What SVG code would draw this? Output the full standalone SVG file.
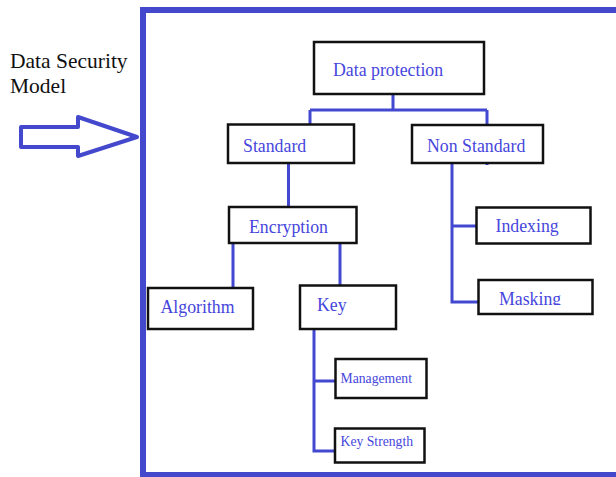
<svg xmlns="http://www.w3.org/2000/svg" width="616" height="477" viewBox="0 0 616 477" font-family="Liberation Serif">
  <style>
    .box { fill: #ffffff; stroke: #111111; stroke-width: 2.5; }
    .lbl { font-size: 17.8px; fill: #4646dc; }
    .sm { font-size: 13.7px; }
    .wire { fill: none; stroke: #4249d0; stroke-width: 3; }
    .title { font-size: 21.5px; fill: #111111; }
  </style>
  <defs>
    <clipPath id="maskingClip">
      <rect x="478" y="280" width="115" height="25"/>
    </clipPath>
  </defs>

  <rect width="616" height="477" fill="#ffffff"/>

  <!-- outer frame -->
  <rect x="143" y="10" width="500" height="465" fill="none" stroke="#4448cc" stroke-width="6"/>

  <!-- caption and pointer arrow -->
  <g id="caption">
    <text class="title" x="10" y="68" font-family="Liberation Serif">Data Security</text>
    <text class="title" x="10" y="93" font-family="Liberation Serif">Model</text>
  </g>
  <g id="pointer">
    <polygon points="21,127 78,127 78,117 137,137 78,156 78,147 21,147" fill="#ffffff" stroke="#4448cc" stroke-width="4" stroke-linejoin="round"/>
  </g>

  <!-- connectors -->
  <g id="connectors">
    <path class="wire" d="M393,94 V110 M310,110 H487 M310,110 V125 M487,110 V165"/>
    <path class="wire" d="M288.5,163 V207"/>
    <path class="wire" d="M233,243 V288 M340,243 V286"/>
    <path class="wire" d="M314,329 V451 H336 M314,381 H336"/>
    <path class="wire" d="M452,163 V302 H479 M452,226 H477"/>
  </g>

  <g id="data-protection">
    <rect class="box" x="314" y="42" width="170" height="52"/>
    <text class="lbl" x="333" y="76" font-family="Liberation Serif">Data protection</text>
  </g>
  <g id="standard">
    <rect class="box" x="228" y="124.5" width="126" height="38.5"/>
    <text class="lbl" x="243" y="152" font-family="Liberation Serif">Standard</text>
  </g>
  <g id="non-standard">
    <rect class="box" x="412" y="125" width="131" height="38"/>
    <text class="lbl" x="427" y="152" font-family="Liberation Serif">Non Standard</text>
  </g>
  <g id="encryption">
    <rect class="box" x="229" y="207" width="127.5" height="36"/>
    <text class="lbl" x="249" y="232.5" font-family="Liberation Serif">Encryption</text>
  </g>
  <g id="algorithm">
    <rect class="box" x="148" y="288" width="105" height="41" stroke-width="3"/>
    <text class="lbl" x="160.5" y="313" font-family="Liberation Serif">Algorithm</text>
  </g>
  <g id="key">
    <rect class="box" x="300" y="285.5" width="96" height="43.5"/>
    <text class="lbl" x="317" y="310.5" font-family="Liberation Serif">Key</text>
  </g>
  <g id="management">
    <rect class="box" x="335.5" y="359" width="91" height="39"/>
    <text class="lbl sm" x="340.5" y="382.5" font-family="Liberation Serif">Management</text>
  </g>
  <g id="key-strength">
    <rect class="box" x="335" y="428.5" width="89.5" height="34"/>
    <text class="lbl sm" x="340.5" y="446" font-family="Liberation Serif">Key Strength</text>
  </g>
  <g id="indexing">
    <rect class="box" x="476.5" y="207.5" width="114" height="36"/>
    <text class="lbl" x="495.5" y="231.5" font-family="Liberation Serif">Indexing</text>
  </g>
  <g id="masking">
    <rect class="box" x="478.5" y="280" width="114" height="34"/>
    <text class="lbl" x="499" y="305" font-family="Liberation Serif" clip-path="url(#maskingClip)">Masking</text>
  </g>
</svg>
